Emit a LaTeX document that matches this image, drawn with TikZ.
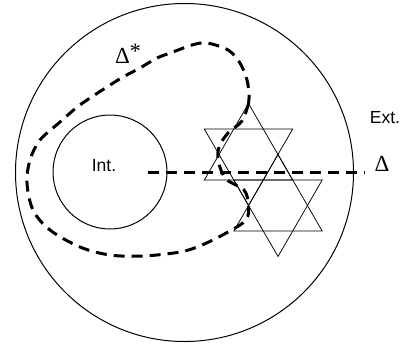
\documentclass[tikz,border=0pt]{standalone}
\usepackage{fontspec}
\setmainfont{Liberation Sans}
\newfontfamily\dfont{Liberation Serif}
\begin{document}
\begin{tikzpicture}[x=1pt,y=-1pt,
  thinline/.style={line width=1pt},
  starline/.style={line width=0.75pt},
  dashline/.style={line width=3pt, dash pattern=on 11pt off 7pt},
  lbl/.style={inner sep=0pt, font=\fontsize{17.5}{17.5}\selectfont},
  dlbl/.style={inner sep=0pt, font=\fontsize{23}{23}\dfont}]
\useasboundingbox (0,0) rectangle (406,349);
% circles
\node[circle, draw, thinline, inner sep=0pt, minimum size=338pt] (outer) at (184.5,172.5) {};
\node[circle, draw, thinline, inner sep=0pt, minimum size=114pt] (inner) at (110,172) {};
% labels
\node[lbl] (int) at (104,166) {Int.};
\node[lbl] (ext) at (385,118) {Ext.};
\node[dlbl] (delta) at (382,164) {Δ};
\node[dlbl, anchor=center] (deltastar) at (128,54) {Δ\raisebox{0.45ex}{\fontsize{22}{22}\selectfont *}};
% stars
\begin{scope}[shift={(248.5,154.5)}]
  \draw[starline] (0,-51) -- (44.17,25.5) -- (-44.17,25.5) -- cycle;
  \draw[starline] (0,51) -- (44.17,-25.5) -- (-44.17,-25.5) -- cycle;
\end{scope}
\begin{scope}[shift={(278,205.5)}]
  \draw[starline] (0,-51) -- (44.17,25.5) -- (-44.17,25.5) -- cycle;
  \draw[starline] (0,51) -- (44.17,-25.5) -- (-44.17,-25.5) -- cycle;
\end{scope}
% Delta line
\coordinate (ds) at (148,172);
\coordinate (de) at (365,172);
\draw[dashline] (ds) -- (de);
% Delta* loop
\draw[dashline] plot[smooth, tension=0.55] coordinates {
 (248.5,103.5) (242,121) (228,133) (219,147) (218.5,162) (226,179) (244,190)
 (248.5,205.5) (246,220) (228,232) (202,245) (180,252) (143,256) (110,255)
 (80,247) (50,230) (33,210) (27,183) (30,160) (40,140) (60,122) (76,108)
 (90,98) (107,87) (123,77) (140,68) (157,58) (173,52) (192,45) (207,43)
 (228,50) (240,63) (247,80) (249,95) (248.5,103.5)};
\end{tikzpicture}
\end{document}
